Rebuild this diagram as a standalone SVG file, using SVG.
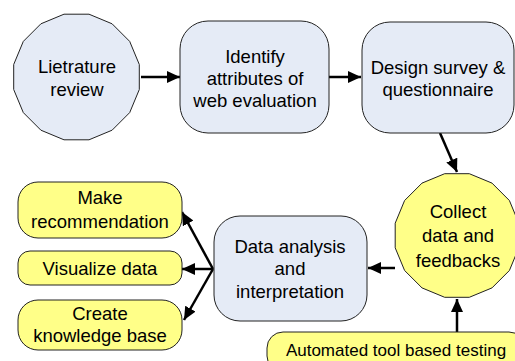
<svg xmlns="http://www.w3.org/2000/svg" width="515" height="361" viewBox="0 0 515 361">
<style>
.blue{fill:#E5EBF6;stroke:#222;stroke-width:1}
.yel{fill:#FFFF88;stroke:#222;stroke-width:1}
text{font-family:"Liberation Sans",Arial,sans-serif;font-size:18.5px;fill:#000;text-anchor:middle}
.conn{stroke:#000;stroke-width:2.5;fill:none;marker-end:url(#ah)}
</style>
<defs>
<marker id="ah" markerUnits="userSpaceOnUse" markerWidth="14" markerHeight="12" refX="13" refY="6" orient="auto">
<path d="M0,0 L13,6 L0,12 Z" fill="#000"/>
</marker>
</defs>
<g id="connectors">
<line class="conn" x1="141" y1="77" x2="180" y2="77"/>
<line class="conn" x1="329" y1="77" x2="361" y2="77"/>
<line class="conn" x1="440" y1="133" x2="457" y2="172"/>
<line class="conn" x1="395" y1="268" x2="368" y2="268"/>
<line class="conn" x1="457" y1="332" x2="457" y2="299"/>
<line class="conn" x1="213" y1="269" x2="182" y2="212"/>
<line class="conn" x1="213" y1="269" x2="182" y2="269"/>
<line class="conn" x1="213" y1="269" x2="184" y2="320"/>
</g>
<g id="literature">
<polygon class="blue" points="139.3,89.5 129.7,112.6 112.1,130.2 89,139.8 64,139.8 40.9,130.2 23.3,112.6 13.7,89.5 13.7,64.5 23.3,41.4 40.9,23.8 64,14.2 89,14.2 112.1,23.8 129.7,41.4 139.3,64.5"/>
<text x="77" y="73">Lietrature</text>
<text x="77" y="96">review</text>
</g>
<g id="identify">
<rect class="blue" x="180" y="21" width="149" height="112" rx="28" ry="28"/>
<text x="255" y="63">Identify</text>
<text x="255" y="85">attributes of</text>
<text x="255" y="107">web evaluation</text>
</g>
<g id="design">
<rect class="blue" x="362" y="22" width="152" height="111" rx="28" ry="28"/>
<text x="438" y="74">Design survey &amp;</text>
<text x="438" y="96">questionnaire</text>
</g>
<g id="collect">
<polygon class="yel" points="518.8,247.8 509.4,270.5 492,287.9 469.3,297.3 444.7,297.3 422,287.9 404.6,270.5 395.2,247.8 395.2,223.2 404.6,200.5 422,183.1 444.7,173.7 469.3,173.7 492,183.1 509.4,200.5 518.8,223.2"/>
<text x="458" y="218">Collect</text>
<text x="458" y="242">data and</text>
<text x="458" y="267">feedbacks</text>
</g>
<g id="analysis">
<rect class="blue" x="214" y="216" width="153" height="105" rx="26" ry="26"/>
<text x="290" y="253">Data analysis</text>
<text x="290" y="275">and</text>
<text x="290" y="298">interpretation</text>
</g>
<g id="automated">
<rect class="yel" x="267" y="332" width="258" height="40" rx="16" ry="16"/>
<text x="396" y="356" style="font-size:17px">Automated tool based testing</text>
</g>
<g id="recommend">
<rect class="yel" x="18" y="182" width="164" height="56" rx="20" ry="20"/>
<text x="100" y="204">Make</text>
<text x="100" y="228">recommendation</text>
</g>
<g id="visualize">
<rect class="yel" x="18" y="251" width="164" height="34" rx="12" ry="12"/>
<text x="100" y="275">Visualize data</text>
</g>
<g id="knowledge">
<rect class="yel" x="18" y="300" width="164" height="50" rx="20" ry="20"/>
<text x="100" y="320">Create</text>
<text x="100" y="342">knowledge base</text>
</g>
</svg>
